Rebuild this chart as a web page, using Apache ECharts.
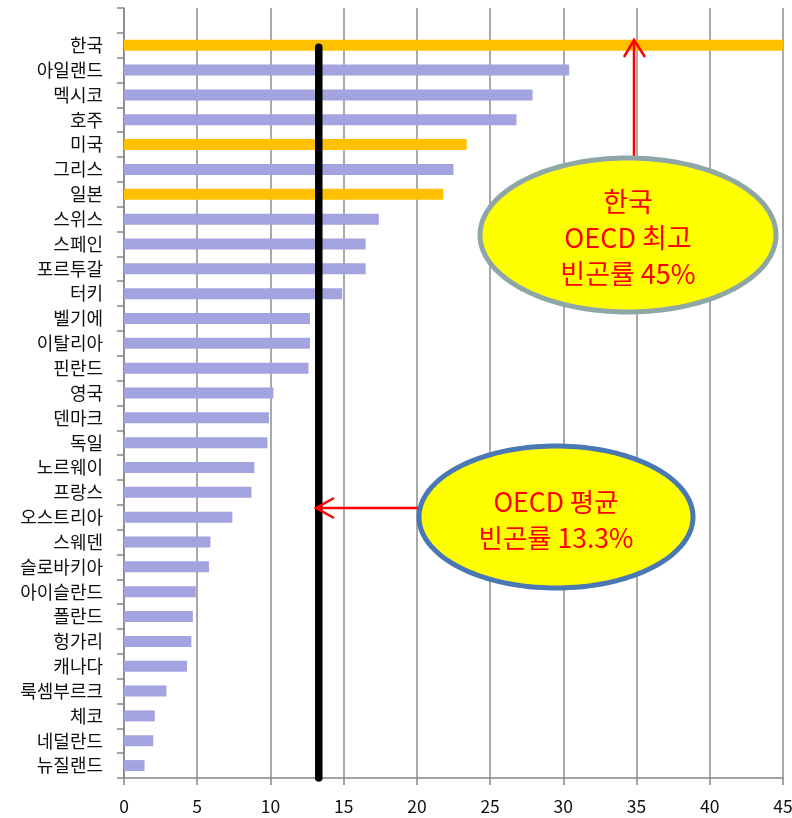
<!DOCTYPE html>
<html>
<head>
<meta charset="utf-8">
<script src="https://cdn.jsdelivr.net/npm/echarts@6/dist/echarts.min.js"></script>
<style>
html,body{margin:0;padding:0;background:#fff;overflow:hidden;}
#chart{width:792px;height:818px;}
</style>
</head>
<body>
<div id="chart"></div>
<script>
// Categories, top to bottom (first entry is the empty top row of the axis)
const categories = ['', '한국','아일랜드','멕시코','호주','미국','그리스','일본','스위스','스페인','포르투갈','터키','벨기에','이탈리아','핀란드','영국','덴마크','독일','노르웨이','프랑스','오스트리아','스웨덴','슬로바키아','아이슬란드','폴란드','헝가리','캐나다','룩셈부르크','체코','네덜란드','뉴질랜드'];
const values = [null, 45, 30.4, 27.9, 26.8, 23.4, 22.5, 21.8, 17.4, 16.5, 16.5, 14.9, 12.7, 12.7, 12.6, 10.2, 9.9, 9.8, 8.9, 8.7, 7.4, 5.9, 5.8, 4.9, 4.7, 4.6, 4.3, 2.9, 2.1, 2.0, 1.4];
const highlighted = ['한국', '미국', '일본'];
const oecdAverage = 13.3;
const xTicks = [0, 5, 10, 15, 20, 25, 30, 35, 40, 45];
const note1Lines = ['한국', 'OECD 최고', '빈곤률 45%'];
const note2Lines = ['OECD 평균', '빈곤률 13.3%'];

const FONT = '"Noto Sans CJK KR", "Noto Sans", sans-serif';
const chart = echarts.init(document.getElementById('chart'), null, {renderer: 'canvas'});

function ellipsePoints(cx, cy, rx, ry, n) {
  const pts = [];
  for (let i = 0; i < n; i++) {
    const a = (i / n) * Math.PI * 2;
    pts.push([cx + rx * Math.cos(a), cy + ry * Math.sin(a)]);
  }
  return pts;
}

const barData = categories.map((c, i) => ({
  value: values[i],
  itemStyle: {color: highlighted.includes(c) ? '#FFC000' : '#A3A3DF'}
}));

chart.setOption({
  animation: false,
  backgroundColor: '#fff',
  grid: {left: 124, right: 9, top: 8, bottom: 40, containLabel: false, outerBoundsMode: 'none'},
  xAxis: {
    type: 'value',
    min: xTicks[0],
    max: xTicks[xTicks.length - 1],
    interval: xTicks[1] - xTicks[0],
    axisLine: {show: true, lineStyle: {color: '#868686', width: 1.5}},
    axisTick: {show: true, length: 7, lineStyle: {color: '#868686', width: 1.5}},
    splitLine: {show: true, lineStyle: {color: '#8c8c8c', width: 1.5}},
    axisLabel: {color: '#111', fontSize: 17.5, fontFamily: FONT, margin: 20}
  },
  yAxis: {
    type: 'category',
    inverse: true,
    data: categories,
    axisLine: {show: true, lineStyle: {color: '#868686', width: 1.5}},
    axisTick: {show: true, length: 7, lineStyle: {color: '#868686', width: 1.5}},
    axisLabel: {color: '#111', fontSize: 18, fontFamily: FONT, margin: 21, interval: 0},
    splitLine: {show: false}
  },
  series: [
    {
      type: 'bar',
      data: barData,
      barWidth: 11,
      z: 2
    },
    {
      type: 'custom',
      z: 5,
      data: [[oecdAverage, '한국']],
      encode: {x: 0, y: 1},
      renderItem: function (params, api) {
        const p = api.coord([api.value(0), api.value(1)]);
        const cs = params.coordSys;
        return {
          type: 'line',
          shape: {x1: p[0], y1: p[1] + 2, x2: p[0], y2: cs.y + cs.height},
          style: {stroke: '#000', lineWidth: 7.5, lineCap: 'round'}
        };
      }
    }
  ]
});

// Annotations
const e1 = {cx: 628, cy: 235, rx: 148, ry: 77};
const e2 = {cx: 556, cy: 517, rx: 137, ry: 71};
chart.setOption({
  graphic: [
    {type: 'line', z: 100, shape: {x1: 634, y1: 158, x2: 634, y2: 41}, style: {stroke: '#FF0000', lineWidth: 2.5}},
    {type: 'polyline', z: 100, shape: {points: [[624, 57], [634, 40], [645, 57]]}, style: {stroke: '#FF0000', lineWidth: 2.5, fill: null}},
    {type: 'line', z: 100, shape: {x1: 420, y1: 508, x2: 316, y2: 508}, style: {stroke: '#FF0000', lineWidth: 2.5}},
    {type: 'polyline', z: 100, shape: {points: [[334, 498], [316, 508], [334, 518]]}, style: {stroke: '#FF0000', lineWidth: 2.5, fill: null}},
    {type: 'polygon', z: 101, shape: {points: ellipsePoints(e1.cx, e1.cy, e1.rx, e1.ry, 180)},
     style: {fill: '#FFFF00', stroke: '#8FA6A6', lineWidth: 5}},
    {type: 'text', z: 102, x: e1.cx, y: e1.cy + 3,
     style: {text: note1Lines.join('\n'), fill: '#FF0000', font: '27px ' + FONT, align: 'center', verticalAlign: 'middle', lineHeight: 36}},
    {type: 'polygon', z: 101, shape: {points: ellipsePoints(e2.cx, e2.cy, e2.rx, e2.ry, 180)},
     style: {fill: '#FFFF00', stroke: '#4A78B4', lineWidth: 5}},
    {type: 'text', z: 102, x: e2.cx, y: e2.cy + 3,
     style: {text: note2Lines.join('\n'), fill: '#FF0000', font: '26.5px ' + FONT, align: 'center', verticalAlign: 'middle', lineHeight: 36}}
  ]
});
</script>
</body>
</html>
